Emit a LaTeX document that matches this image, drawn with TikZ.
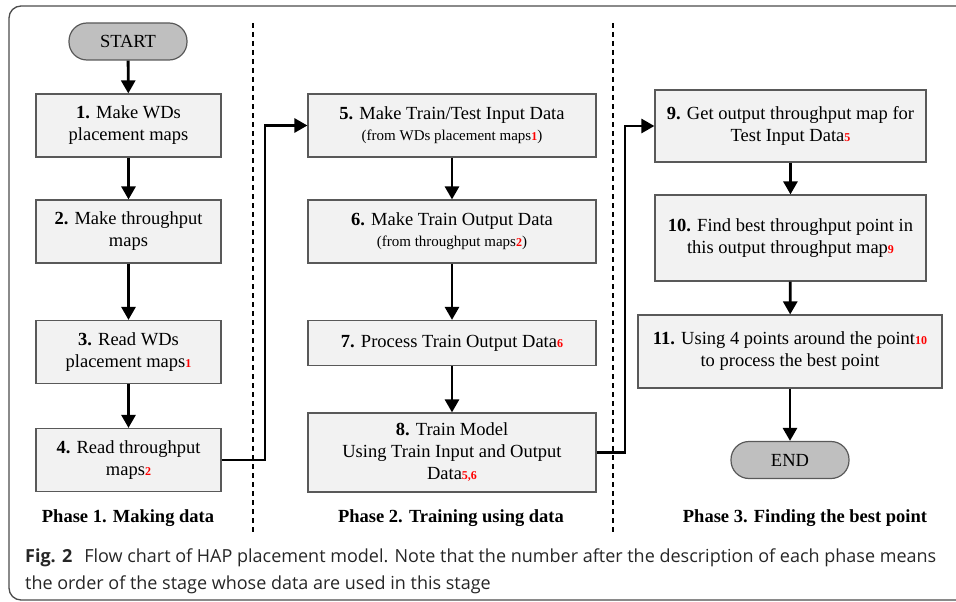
\documentclass[tikz,border=0pt]{standalone}
\usepackage{fontspec}
\setmainfont{Liberation Serif}
\newfontfamily\capfont{Open Sans}
\usetikzlibrary{arrows.meta}
\definecolor{boxfill}{HTML}{F2F2F2}
\definecolor{boxline}{HTML}{595959}
\definecolor{termfill}{HTML}{BFBFBF}
\definecolor{capgray}{HTML}{262626}
\newcommand{\rn}[1]{{\color{red}\fontsize{12}{12}\selectfont\textbf{#1}}}
\newcommand{\subl}[1]{{\fontsize{15}{17}\selectfont #1}}
\begin{document}
\begin{tikzpicture}[x=1pt,y=-1pt,
 box/.style={draw=boxline,line width=1.2pt,fill=boxfill,inner sep=2pt,align=center,font=\fontsize{18.5}{22}\selectfont},
 term/.style={draw=boxline,line width=1.2pt,fill=termfill,rounded corners=18pt,minimum width=118pt,minimum height=37pt,font=\fontsize{18.5}{20}\selectfont},
 arr/.style={line width=2.8pt,-{Triangle[length=13pt,width=14pt]}},
 sep/.style={dash pattern=on 5pt off 4pt, line width=1.1pt},
 phase/.style={font=\fontsize{18.5}{20}\selectfont\bfseries}]
\useasboundingbox (0,0) rectangle (956,602);
\draw[line width=1.3pt,draw=black!70,rounded corners=12pt] (9,6) rectangle (990,600);

% separators
\coordinate (s1t) at (253,23); \coordinate (s1b) at (253,535);
\coordinate (s2t) at (613,23); \coordinate (s2b) at (613,535);
\draw[sep] (s1t) -- (s1b);
\draw[sep] (s2t) -- (s2b);

% phase 1
\node[term] (start) at (128,41.5) {START};
\node[box,minimum width=185pt,minimum height=63pt] (b1) at (128.5,125.5) {\textbf{1.} Make WDs\\placement maps};
\node[box,minimum width=185pt,minimum height=63pt] (b2) at (128.5,231.5) {\textbf{2.} Make throughput\\maps};
\node[box,minimum width=185pt,minimum height=63pt] (b3) at (128.5,352) {\textbf{3.} Read WDs\\placement maps\rn{1}};
\node[box,minimum width=185pt,minimum height=63pt] (b4) at (128.5,460) {\textbf{4.} Read throughput\\maps\rn{2}};

% phase 2
\node[box,minimum width=288pt,minimum height=63pt] (b5) at (452,125.5) {\textbf{5.} Make Train/Test Input Data\\[-1pt]\subl{(from WDs placement maps\rn{1})}};
\node[box,minimum width=288pt,minimum height=63pt] (b6) at (452,231.5) {\textbf{6.} Make Train Output Data\\[-1pt]\subl{(from throughput maps\rn{2})}};
\node[box,minimum width=288pt,minimum height=45pt] (b7) at (452,343) {\textbf{7.} Process Train Output Data\rn{6}};
\node[box,minimum width=288pt,minimum height=79pt] (b8) at (452,452.5) {\textbf{8.} Train Model\\Using Train Input and Output\\Data\rn{5,6}};

% phase 3
\node[box,minimum width=271pt,minimum height=72pt] (b9) at (790.5,126) {\textbf{9.} Get output throughput map for\\Test Input Data\rn{5}};
\node[box,minimum width=271pt,minimum height=86pt] (b10) at (790.5,238) {\textbf{10.} Find best throughput point in\\this output throughput map\rn{9}};
\node[box,minimum width=304pt,minimum height=73pt] (b11) at (790,351.5) {\textbf{11.} Using 4 points around the point\rn{10}\\to process the best point};
\node[term] (end) at (790,460) {END};

% arrows
\draw[arr] (start) -- (b1);
\draw[arr] (b1) -- (b2);
\draw[arr] (b2) -- (b3);
\draw[arr] (b3) -- (b4);
\draw[arr] (b5) -- (b6);
\draw[arr] (b6) -- (b7);
\draw[arr] (b7) -- (b8);
\draw[arr] (b9) -- (b10);
\draw[arr] (b10) -- (b11);
\draw[arr] (b11) -- (end);
\coordinate (k1) at (265,300);
\coordinate (k2) at (625,300);
\draw[arr] (b4.east) -- (b4.east -| k1) |- (b5.west);
\draw[arr] (b8.east) -- (b8.east -| k2) |- (b9.west);

% phase labels
\node[phase] (p1) at (128,518) {Phase 1. Making data};
\node[phase] (p2) at (451,518) {Phase 2. Training using data};
\node[phase] (p3) at (805,518) {Phase 3. Finding the best point};

% caption
\node[anchor=base west,inner sep=0,align=left,text=capgray,font=\capfont\fontsize{18}{27}\selectfont] (cap) at (25,589)
 {\textbf{Fig. 2}\hspace{0.4em} Flow chart of HAP placement model. Note that the number after the description of each phase means\\the order of the stage whose data are used in this stage};
\end{tikzpicture}
\end{document}
